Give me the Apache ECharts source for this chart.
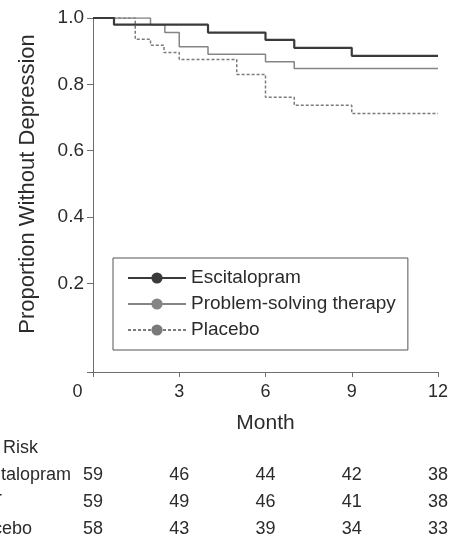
<!DOCTYPE html>
<html>
<head>
<meta charset="utf-8">
<script src="https://cdn.jsdelivr.net/npm/echarts@6/dist/echarts.min.js"></script>
<style>
  html, body { margin: 0; padding: 0; background: #fff; }
  #main { width: 465px; height: 541px; }
</style>
</head>
<body>
<div id="main"></div>
<script>
// Kaplan-Meier curves (month, proportion)
const escTimes = [0, 0.73, 4, 6, 7, 9, 12];
const escValues = [1, 0.980, 0.956, 0.934, 0.910, 0.886, 0.886];
const pstTimes = [0, 2, 2.5, 3, 4, 6, 7, 12];
const pstValues = [1, 0.980, 0.956, 0.913, 0.891, 0.868, 0.848, 0.848];
const plaTimes = [0, 1.47, 2, 2.47, 3, 5, 6, 7, 9, 12];
const plaValues = [1, 0.936, 0.918, 0.896, 0.875, 0.830, 0.761, 0.737, 0.712, 0.712];

const seriesNames = ['Escitalopram', 'Problem-solving therapy', 'Placebo'];
const monthTicks = [0, 3, 6, 9, 12];
const yTicks = [0.2, 0.4, 0.6, 0.8, 1.0];

// number at risk table
const riskHeader = 'No. at Risk';
const riskLabels = ['Escitalopram', 'PST', 'Placebo'];
const riskEsc = [59, 46, 44, 42, 38];
const riskPst = [59, 49, 46, 41, 38];
const riskPla = [58, 43, 39, 34, 33];

const FONT = '"Liberation Sans", Arial, Helvetica, sans-serif';
const TEXT = '#2b2b2b';
const AXIS = '#6e6e6e';
const Y_MIN = -0.067;

function pairs(t, v) {
    return t.map((x, i) => [x, v[i]]);
}

let chart = echarts.init(document.getElementById('main'));

let option = {
    animation: false,
    backgroundColor: '#fff',
    grid: { left: 93, right: 27, top: 18, bottom: 169 },
    xAxis: {
        type: 'value',
        min: 0,
        max: 12,
        interval: 3,
        name: 'Month',
        nameLocation: 'middle',
        nameGap: 41,
        nameTextStyle: { fontFamily: FONT, fontSize: 21, color: TEXT },
        axisLine: { show: true, onZero: false, lineStyle: { color: AXIS, width: 1 } },
        axisTick: { show: true, length: 5, lineStyle: { color: AXIS, width: 1 } },
        splitLine: { show: false },
        axisLabel: {
            margin: 11,
            fontFamily: FONT,
            fontSize: 18,
            color: TEXT,
            formatter: function (v) {
                return v === 0 ? '{z|0}' : String(v); // the 0 sits left of its tick
            },
            rich: { z: { fontFamily: FONT, fontSize: 18, color: TEXT, padding: [0, 31, 0, 0] } }
        }
    },
    yAxis: {
        type: 'value',
        min: Y_MIN,
        max: 1,
        axisLine: { show: true, lineStyle: { color: AXIS, width: 1 } },
        axisTick: { show: true, length: 6, lineStyle: { color: AXIS }, customValues: [Y_MIN].concat(yTicks) },
        splitLine: { show: false },
        axisLabel: {
            margin: 9,
            fontFamily: FONT,
            fontSize: 19,
            color: TEXT,
            customValues: yTicks,
            formatter: function (v) { return v.toFixed(1); }
        }
    },
    legend: {
        orient: 'vertical',
        left: 113,
        top: 258,
        padding: [10, 12, 10, 14],
        itemWidth: 58,
        itemHeight: 14,
        itemGap: 6,
        borderColor: '#555',
        borderWidth: 1,
        backgroundColor: '#fff',
        selectedMode: false,
        textStyle: { fontFamily: FONT, fontSize: 19, color: TEXT, lineHeight: 20 },
        data: seriesNames
    },
    series: [
        {
            name: seriesNames[0],
            type: 'line',
            step: 'end',
            symbol: 'none',
            z: 5,
            lineStyle: { color: '#3a3a3a', width: 2.2 },
            itemStyle: { color: '#3a3a3a' },
            data: pairs(escTimes, escValues)
        },
        {
            name: seriesNames[1],
            type: 'line',
            step: 'end',
            symbol: 'none',
            z: 4,
            lineStyle: { color: '#858585', width: 1.5 },
            itemStyle: { color: '#858585' },
            data: pairs(pstTimes, pstValues)
        },
        {
            name: seriesNames[2],
            type: 'line',
            step: 'end',
            symbol: 'none',
            z: 3,
            lineStyle: { color: '#7a7a7a', width: 1.5, type: [3, 2] },
            itemStyle: { color: '#7a7a7a' },
            data: pairs(plaTimes, plaValues)
        }
    ]
};

chart.setOption(option);

// y title and the at-risk table, placed with the chart's own x scale
let graphics = [{
    type: 'text',
    x: 28,
    y: 184,
    rotation: Math.PI / 2,
    style: {
        text: 'Proportion Without Depression',
        font: '22px ' + FONT,
        fill: TEXT,
        align: 'center',
        verticalAlign: 'middle'
    }
}, {
    type: 'text',
    x: -50,
    y: 448,
    style: { text: riskHeader, font: '18px ' + FONT, fill: TEXT, align: 'left', verticalAlign: 'middle' }
}];

const rows = [riskEsc, riskPst, riskPla];
const rowY = [475, 502, 529];
rows.forEach(function (row, r) {
    graphics.push({
        type: 'text',
        x: -33,
        y: rowY[r],
        style: { text: riskLabels[r], font: '18px ' + FONT, fill: TEXT, align: 'left', verticalAlign: 'middle' }
    });
    row.forEach(function (n, i) {
        let px = chart.convertToPixel({ xAxisIndex: 0 }, monthTicks[i]);
        graphics.push({
            type: 'text',
            x: px,
            y: rowY[r],
            style: { text: String(n), font: '18px ' + FONT, fill: TEXT, align: 'center', verticalAlign: 'middle' }
        });
    });
});

chart.setOption({ graphic: graphics });
</script>
</body>
</html>
